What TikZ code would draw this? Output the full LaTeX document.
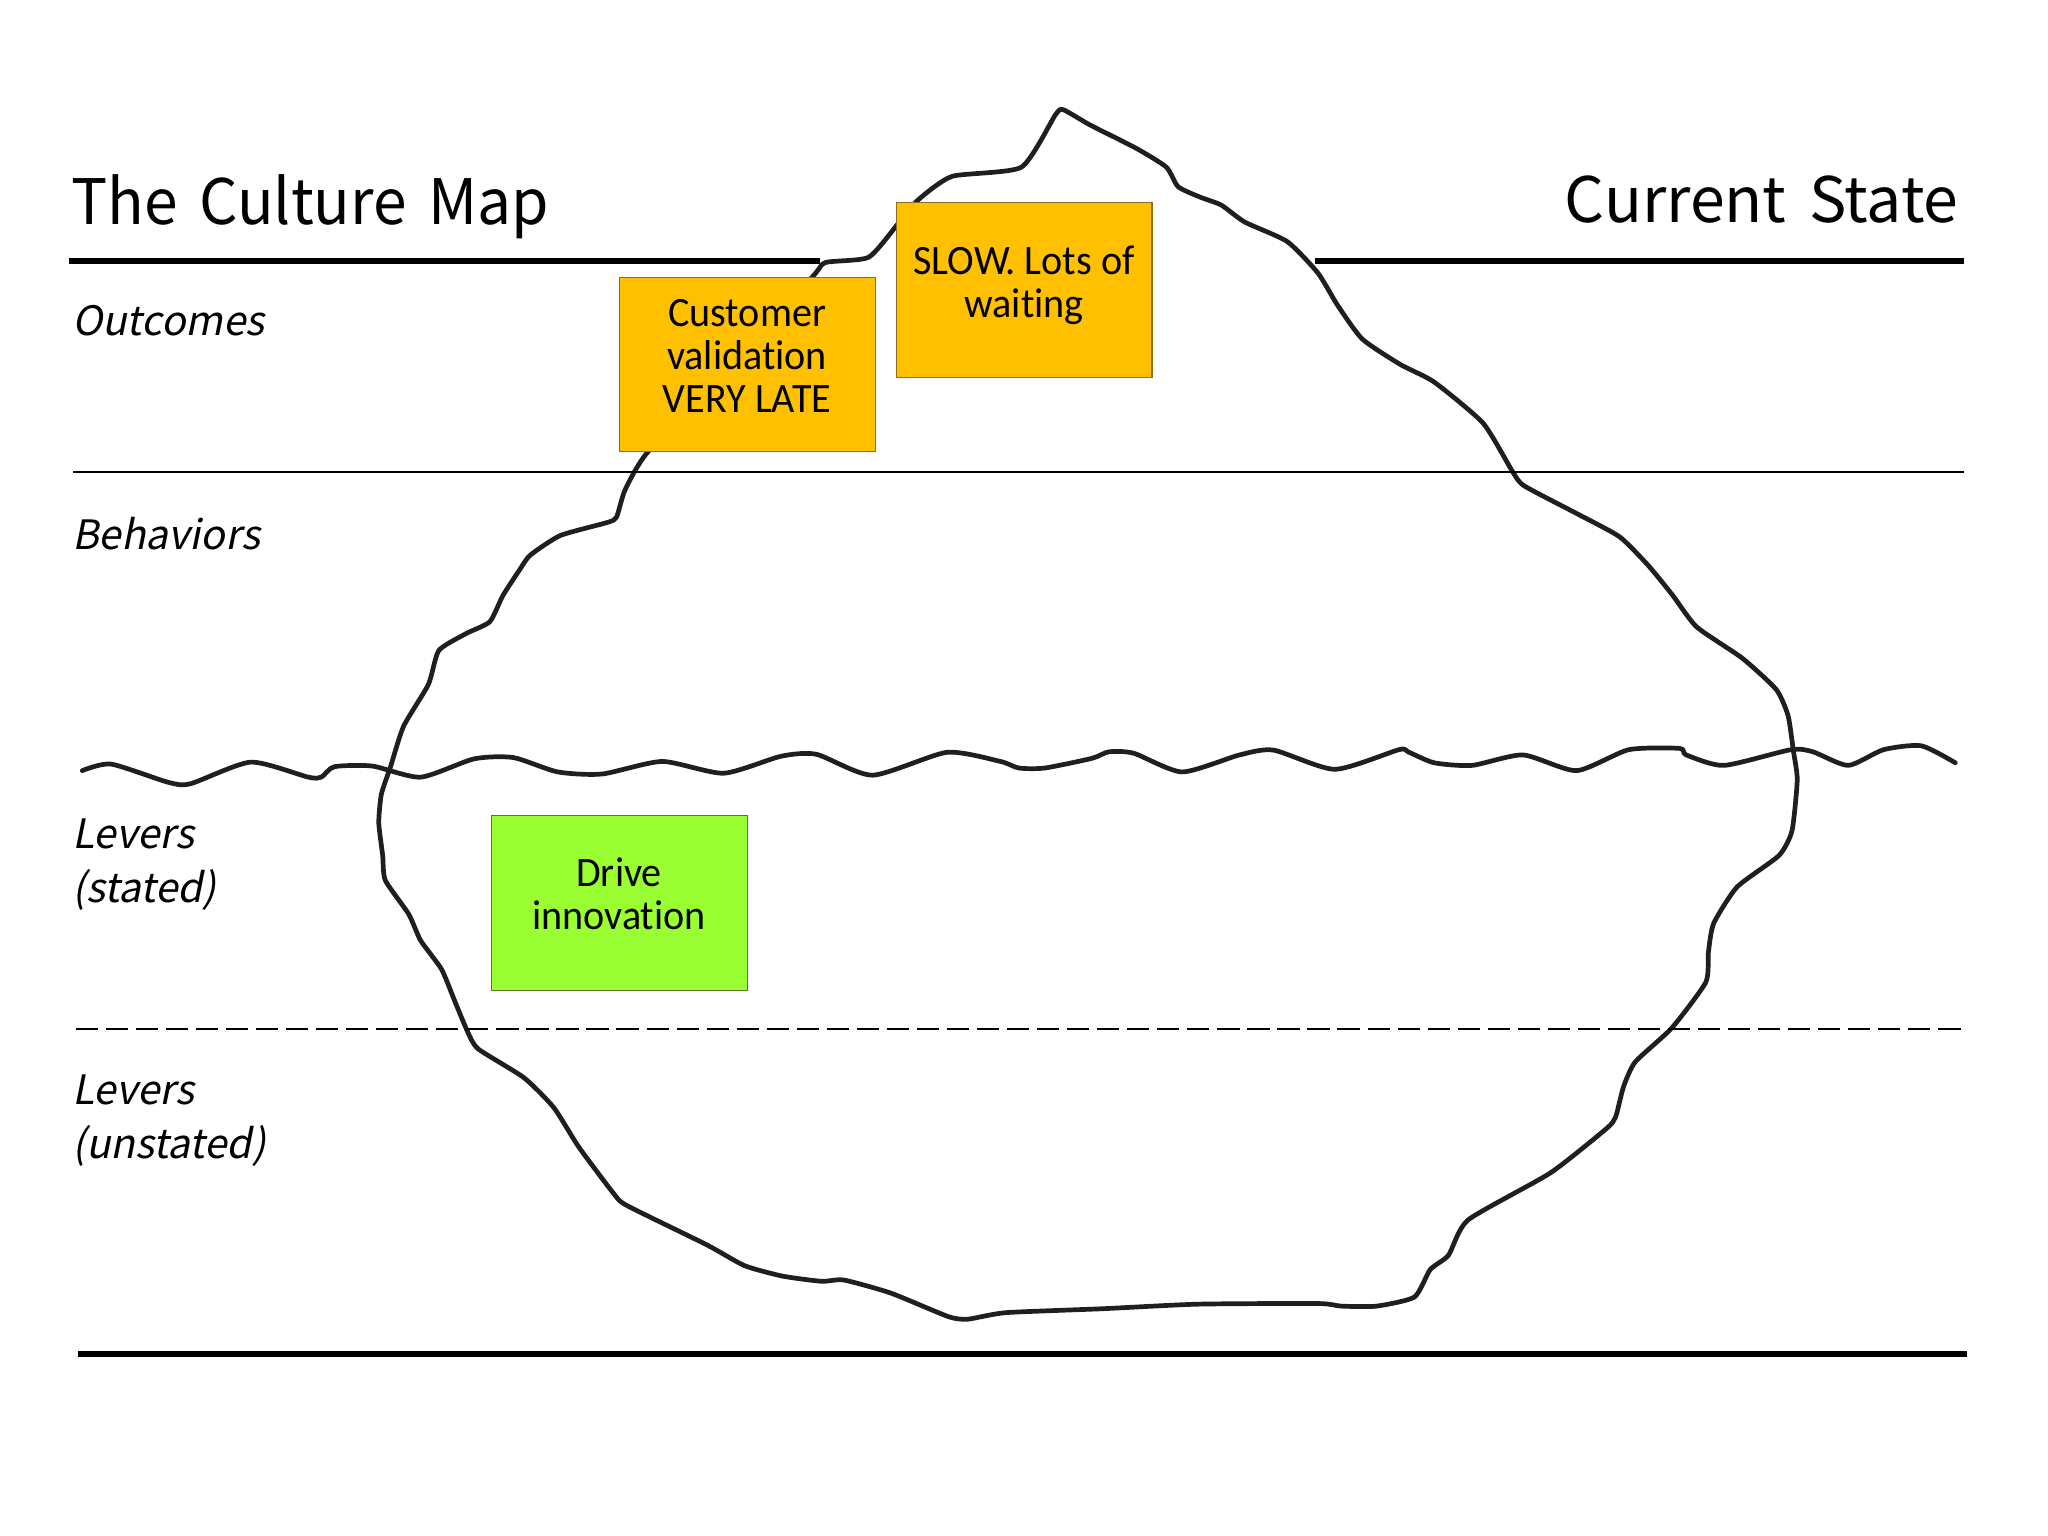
\documentclass[tikz,border=0pt]{standalone}
\usepackage{fontspec}
\setmainfont{Liberation Sans}
\newfontfamily\titlefont[WordSpace=1.6]{Noto Sans CJK JP}
\newfontfamily\titlefontnarrow[WordSpace=1.6,FakeStretch=0.965]{Noto Sans CJK JP}
\newfontfamily\labelfont[FakeSlant=0.2]{Noto Sans CJK JP}
\newfontfamily\boxfont[Ligatures=NoCommon,FakeStretch=0.96]{Carlito}
\definecolor{noteamber}{RGB}{255,192,0}
\definecolor{notegreen}{RGB}{153,255,51}
\definecolor{amberedge}{RGB}{140,110,30}
\definecolor{greenedge}{RGB}{90,120,40}
\begin{document}
\begin{tikzpicture}[x=0.5pt,y=-0.5pt,
  rough/.style={draw=black!88,line width=1.8pt,line join=round,line cap=round},
  heavyrule/.style={draw=black,line width=2.4pt},
  title/.style={anchor=base west,inner sep=0pt,font=\titlefont\fontsize{24}{28}\selectfont,text=black},
  rowlabel/.style={anchor=base west,inner sep=0pt,align=left,font=\labelfont\fontsize{15.5}{20.75}\selectfont,text=black},
  note/.style={line width=0.4pt,minimum width=97.8pt,minimum height=66.8pt,anchor=north west,inner sep=0pt},
  notetext/.style={anchor=north,inner sep=0pt,align=center,font=\boxfont\fontsize{16}{16.5}\selectfont,text=black}]
\useasboundingbox (0,0) rectangle (1568,1176);
% iceberg
\draw[rough] plot[smooth cycle,tension=0.35] coordinates {(814,84)(834.6,95.7)(870,113.6)(893,128)(902,143)(919,151)(935,157)(953,170)(985.6,185)(1009,209)(1024,233.6)(1043,259.6)(1072,279)(1098,292.5)(1135.5,324)(1158,361)(1167,372)(1208,393.6)(1240,411)(1262,433)(1280.5,455.6)(1299,480)(1334,504)(1360,528)(1369,548)(1373,574.6)(1376,597)(1372,636)(1362,655)(1330,679)(1312,707)(1308,729)(1306,752)(1280,787)(1252,813)(1243,832)(1237,855)(1230,864)(1187,898)(1124,934)(1109,961)(1095,972)(1083,993)(1054,1000)(1027,1000)(1009,998)(917,998.5)(844,1002)(770,1005)(741,1010)(726,1008)(682,990)(646,980)(629,981)(599,977)(570,969)(541,953)(480,923)(470,914)(443,878)(424,848)(401,825)(366,803)(357.6,789)(348,766)(338,742)(322,720)(313,700)(295,674)(293,655)(290,630)(292,608)(299,587)(309,556)(328,524)(336,498)(357,485)(375,476)(385,456)(398,436)(406,425)(429,410)(465,400)(472,396)(478.6,375)(496,346)(560,280)(622,212)(632,201)(665,197)(687,172)(703,153)(729,135)(782,128)(808,88)};
% waterline
\draw[rough] plot[smooth,tension=0.4] coordinates {(63,590)(85,585)(129,599)(146,600)(192,583.5)(236,595)(246,595)(256,587)(285,586.5)(322,595)(363,581)(393,580)(427,591)(461,592.6)(507,583)(554,592)(598,579)(625,577.5)(668,593.5)(725,576)(766,583)(780,588)(800,588)(836,580.6)(849,575.6)(868,576.7)(905,591)(949,578)(975,574.3)(1022,589)(1071,574)(1078,575.6)(1098,584)(1127,586)(1166,578)(1207,590)(1247,574)(1286,573)(1291,578)(1320,586)(1371,574)(1388,575.6)(1415,586)(1442,574)(1471,571)(1497,584)};
% rules
\coordinate (a1) at (53,200); \coordinate (a2) at (628,200);
\coordinate (b1) at (1007,200); \coordinate (b2) at (1504,200);
\coordinate (c1) at (56,361.5); \coordinate (c2) at (1504,361.5);
\coordinate (d1) at (58,788); \coordinate (d2) at (1502,788);
\coordinate (e1) at (60,1036.5); \coordinate (e2) at (1506,1036.5);
\draw[heavyrule] (a1) -- (a2);
\draw[heavyrule] (b1) -- (b2);
\draw[black,line width=0.9pt] (c1) -- (c2);
\draw[black,line width=0.75pt,dash pattern=on 8.5pt off 3pt] (d1) -- (d2);
\draw[heavyrule] (e1) -- (e2);
% titles
\node[title,font=\titlefontnarrow\fontsize{24}{28}\selectfont] (t1) at (54,172) {The Culture Map};
\node[title,anchor=base east] (t2) at (1500,170) {Current State};
% labels
\node[rowlabel] (l1) at (55,257) {Outcomes};
\node[rowlabel] (l2) at (55,421) {Behaviors};
\node[rowlabel] (l3) at (55,691) {Levers\\(stated)};
\node[rowlabel] (l4) at (55,887) {Levers\\(unstated)};
% boxes
\node[note,fill=noteamber,draw=amberedge] (n1) at (474,212) {};
\node[note,fill=noteamber,draw=amberedge] (n2) at (686,155) {};
\node[note,fill=notegreen,draw=greenedge] (n3) at (376,624) {};
\node[notetext] (x1) at (572,229) {Customer\\validation\\VERY LATE};
\node[notetext] (x2) at (784,188) {SLOW. Lots of\\waiting};
\node[notetext] (x3) at (474,656) {Drive\\innovation};
\end{tikzpicture}
\end{document}
